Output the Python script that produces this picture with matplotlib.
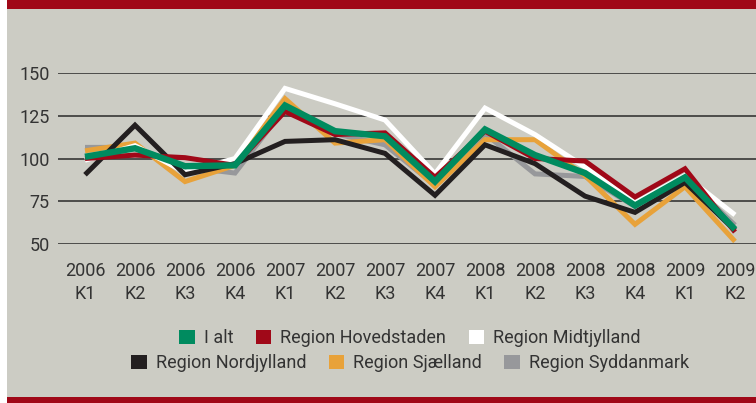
import matplotlib
matplotlib.use("Agg")
import matplotlib.pyplot as plt
from matplotlib.patches import Rectangle

plt.rcParams['font.family'] = ['Roboto', 'DejaVu Sans']

quarters = ["2006\nK1", "2006\nK2", "2006\nK3", "2006\nK4",
            "2007\nK1", "2007\nK2", "2007\nK3", "2007\nK4",
            "2008\nK1", "2008\nK2", "2008\nK3", "2008\nK4",
            "2009\nK1", "2009\nK2"]

i_alt = [101, 106, 95.5, 96, 131, 116, 113, 86.5, 117, 102, 91.5, 72.5, 89, 58.5]
hovedstaden = [100, 102, 100.5, 96, 127.5, 114, 115, 89, 116, 100, 98.5, 77.5, 94, 57]
midtjylland = [99, 107.5, 92, 100, 141, 132, 122.5, 91, 129.5, 114, 95, 74, 90, 67]
nordjylland = [90.5, 119.5, 90.5, 97, 110, 111, 103, 78.5, 108, 97, 78, 68.5, 86, 58]
sjaelland = [104.5, 109, 86.5, 96, 135, 109, 111, 83.5, 111, 111, 90, 61.5, 83.5, 51.5]
syddanmark = [106.5, 106.5, 95, 91.5, 129.5, 114.5, 108, 84.5, 114.5, 91, 89.5, 72, 88.5, 61]

names = ["I alt", "Region Hovedstaden", "Region Midtjylland",
         "Region Nordjylland", "Region Sjælland", "Region Syddanmark"]
colors = {"I alt": "#008B5F", "Region Hovedstaden": "#A00818",
          "Region Midtjylland": "#FFFFFF", "Region Nordjylland": "#231F20",
          "Region Sjælland": "#E8A23A", "Region Syddanmark": "#97989B"}
series = {"I alt": i_alt, "Region Hovedstaden": hovedstaden,
          "Region Midtjylland": midtjylland, "Region Nordjylland": nordjylland,
          "Region Sjælland": sjaelland, "Region Syddanmark": syddanmark}
widths = {"I alt": 4.6, "Region Hovedstaden": 3.6, "Region Midtjylland": 3.6,
          "Region Nordjylland": 3.6, "Region Sjælland": 3.6, "Region Syddanmark": 3.6}
draw_order = ["Region Syddanmark", "Region Sjælland", "Region Midtjylland",
              "Region Nordjylland", "Region Hovedstaden", "I alt"]

W, H = 756, 403
fig = plt.figure(figsize=(W / 100, H / 100), dpi=100, facecolor="white")
bg = "#CCCCC4"
red = "#A00818"
fig.patches.append(Rectangle((7 / W, 0), 1 - 7 / W, 1, transform=fig.transFigure,
                             facecolor=bg, edgecolor="none", zorder=-3))
fig.patches.append(Rectangle((7 / W, 1 - 9 / H), 1 - 7 / W, 9 / H, transform=fig.transFigure,
                             facecolor=red, edgecolor="none", zorder=-2))
fig.patches.append(Rectangle((7 / W, 0), 1 - 7 / W, 6 / H, transform=fig.transFigure,
                             facecolor=red, edgecolor="none", zorder=-2))

ax = fig.add_axes([58 / W, (H - 244) / H, (W - 58) / W, 171 / H])
ax.set_zorder(5)
ax.set_facecolor("none")
for s in ax.spines.values():
    s.set_visible(False)

x = list(range(len(quarters)))
for n in draw_order:
    ax.plot(x, series[n], color=colors[n], lw=widths[n], solid_joinstyle="miter",
            solid_capstyle="butt", clip_on=False, zorder=3)

ax.set_xlim(-0.54, 13.42)
ax.set_ylim(50, 150)
ax.set_yticks([50, 75, 100, 125, 150])
ax.yaxis.grid(True, color="#2a2a2a", lw=1.1)
ax.set_axisbelow(True)
ax.set_xticks(x)
ax.set_xticklabels(quarters, linespacing=1.35)
ax.tick_params(axis="both", length=0, labelsize=13, colors="#333333")
ax.tick_params(axis="x", pad=13)
ax.tick_params(axis="y", pad=6)

def handle(n):
    return Rectangle((0, 0), 1, 1, facecolor=colors[n], edgecolor="none")

common = dict(frameon=False, ncol=3, handlelength=0.85, handleheight=0.85,
              handletextpad=0.5, columnspacing=1.25, fontsize=13,
              labelcolor="#333333", loc="center", borderaxespad=0, borderpad=0)
leg1 = fig.legend([handle(n) for n in names[:3]], names[:3],
                  bbox_to_anchor=(410 / W, 1 - 338 / H), **common)
leg2 = fig.legend([handle(n) for n in names[3:]], names[3:],
                  bbox_to_anchor=(410 / W, 1 - 363 / H), **common)

fig.savefig("out.png", dpi=100, facecolor=fig.get_facecolor())
